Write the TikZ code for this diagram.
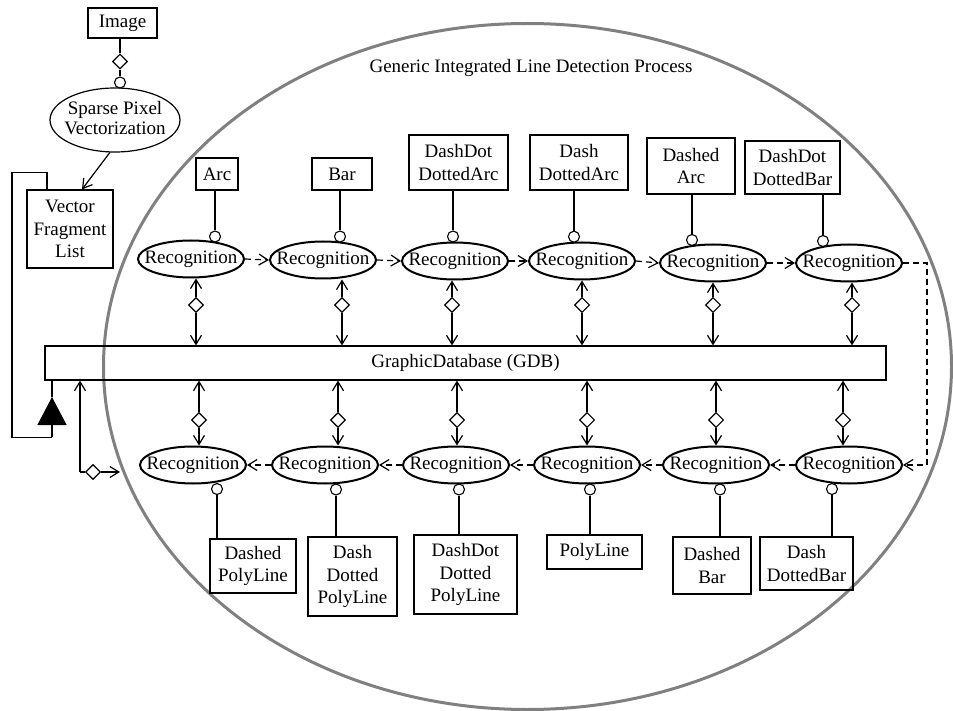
\documentclass[tikz,border=0pt]{standalone}
\usepackage{fontspec}
\setmainfont{Liberation Serif}
\usetikzlibrary{shapes.geometric,arrows.meta}
\begin{document}
\begin{tikzpicture}[x=1pt,y=-1pt,
  every node/.style={font=\fontsize{19}{22.5}\selectfont},
  rec/.style={ellipse,draw,line width=2pt,minimum width=106pt,minimum height=37pt,inner sep=0pt},
  bx/.style={draw,line width=1.2pt,align=center,inner sep=0pt},
  dia/.style={diamond,draw,line width=1.1pt,fill=white,minimum width=15pt,minimum height=15pt,inner sep=0pt},
  circ/.style={circle,draw,line width=1.1pt,fill=white,minimum size=11pt,inner sep=0pt},
  con/.style={line width=1.2pt},
  dsh/.style={con,dash pattern=on 6pt off 4pt},
  >={Straight Barb[length=9pt,width=11pt]},
]
\useasboundingbox (0,0) rectangle (953,711);
% big process ellipse
\draw[black!50,line width=3pt] (527.5,366.5) ellipse [x radius=424, y radius=343];
\node (title) at (531,68) {Generic Integrated Line Detection Process};

% left part
\node[bx,minimum width=69pt,minimum height=30pt] (img) at (122.5,23) {Image};
\node[ellipse,draw,line width=1.2pt,minimum width=130pt,minimum height=64pt,inner sep=0pt] (spv) at (115,120)
  {\makebox[0pt]{\begin{tabular}{@{}c@{}}Sparse Pixel\\[-3pt]Vectorization\end{tabular}}};
\node[bx,minimum width=86pt,minimum height=78pt] (vfl) at (70,229) {Vector\\Fragment\\List};
\node[dia] (dimg) at (120,61.5) {};
\node[circ] (cspv) at (120,82.5) {};
\draw[con] (dimg) -- (dimg |- img.south);
\draw[con] (dimg) -- (cspv);
\draw[con,->] (spv.-99) -- ([xshift=12pt]vfl.north);

% GDB
\node[bx,minimum width=841pt,minimum height=34pt] (gdb) at (465.5,363) {GraphicDatabase (GDB)};

% feedback loop
\draw[con] ([xshift=-23pt]vfl.north) -- ++(0,-17) -- ++(-35,0) -- ++(0,265) -- ++(40,0) coordinate (tbase);
\coordinate (ttip) at (52,397);
\draw[con,-{Triangle[length=28pt,width=29pt]}] (tbase) -- (ttip);
\draw[con] (ttip) -- (ttip |- gdb.south);

% left arrow into the process
\coordinate (lc) at (80,472);
\node[dia] (dl) at (93,472) {};
\coordinate (le) at (120,472);
\draw[con,->] (lc) -- (lc |- gdb.south);
\draw[con] (lc) -- (dl);
\draw[con,->] (dl) -- (le);

% top row
\foreach \i/\x/\y in {1/191/259,2/323/260,3/455/261,4/582/261,5/713/263,6/849/263}
  \node[rec] (T\i) at (\x,\y) {\makebox[0pt]{Recognition}};
\node[bx,minimum width=42pt,minimum height=32pt] (tb1) at (217,174) {Arc};
\node[bx,minimum width=60pt,minimum height=32pt] (tb2) at (342,174) {Bar};
\node[bx,minimum width=99pt,minimum height=55pt] (tb3) at (458.5,162.5) {DashDot\\DottedArc};
\node[bx,minimum width=98pt,minimum height=55pt] (tb4) at (579,162.5) {Dash\\DottedArc};
\node[bx,minimum width=88pt,minimum height=56pt] (tb5) at (691,166) {Dashed\\Arc};
\node[bx,minimum width=95pt,minimum height=53pt] (tb6) at (792.5,167.5) {DashDot\\DottedBar};
\foreach \i/\x/\y in {1/215/236.5,2/340/236.5,3/453/236.5,4/574/236.7,5/692/240,6/823/241}{
  \node[circ] (tc\i) at (\x,\y) {};
  \draw[con] (tc\i) -- (tc\i |- tb\i.south);
}
\foreach \i/\x in {1/196,2/342,3/452,4/582,5/713,6/852}{
  \node[dia] (td\i) at (\x,305) {};
  \draw[con,->] (td\i) -- (td\i |- T\i.south);
  \draw[con,->] (td\i) -- (td\i |- gdb.north);
}
\foreach \i/\j in {1/2,2/3,3/4,4/5,5/6}
  \draw[dsh,->] (T\i.east) -- (T\j.west);

% bottom row
\foreach \i/\x in {1/193,2/325,3/456,4/587,5/716,6/849}
  \node[rec] (B\i) at (\x,465) {\makebox[0pt]{Recognition}};
\node[bx,minimum width=86pt,minimum height=54pt] (bb1) at (253,566) {Dashed\\PolyLine};
\node[bx,minimum width=89pt,minimum height=79pt] (bb2) at (352.5,576.5) {Dash\\Dotted\\PolyLine};
\node[bx,minimum width=103pt,minimum height=79pt] (bb3) at (465.5,574.5) {DashDot\\Dotted\\PolyLine};
\node[bx,minimum width=95pt,minimum height=34pt] (bb4) at (594.5,552) {PolyLine};
\node[bx,minimum width=78pt,minimum height=57pt] (bb5) at (712,565.5) {Dashed\\Bar};
\node[bx,minimum width=93pt,minimum height=53pt] (bb6) at (806.5,563.5) {Dash\\DottedBar};
\foreach \i/\x/\y in {1/217/489,2/336/489.5,3/459/489.5,4/590/489.5,5/720/489.5,6/832/489}{
  \node[circ] (bc\i) at (\x,\y) {};
  \draw[con] (bc\i) -- (bc\i |- bb\i.north);
}
\foreach \i/\x in {1/199,2/338,3/457,4/587,5/716,6/843}{
  \node[dia] (bd\i) at (\x,420) {};
  \draw[con,->] (bd\i) -- (bd\i |- gdb.south);
  \draw[con,->] (bd\i) -- (bd\i |- B\i.north);
}
\foreach \i/\j in {1/2,2/3,3/4,4/5,5/6}
  \draw[dsh,->] (B\j.west) -- (B\i.east);
\draw[dsh,->] (T6.east) -- ++(24,0) |- (B6.east);
\end{tikzpicture}
\end{document}
